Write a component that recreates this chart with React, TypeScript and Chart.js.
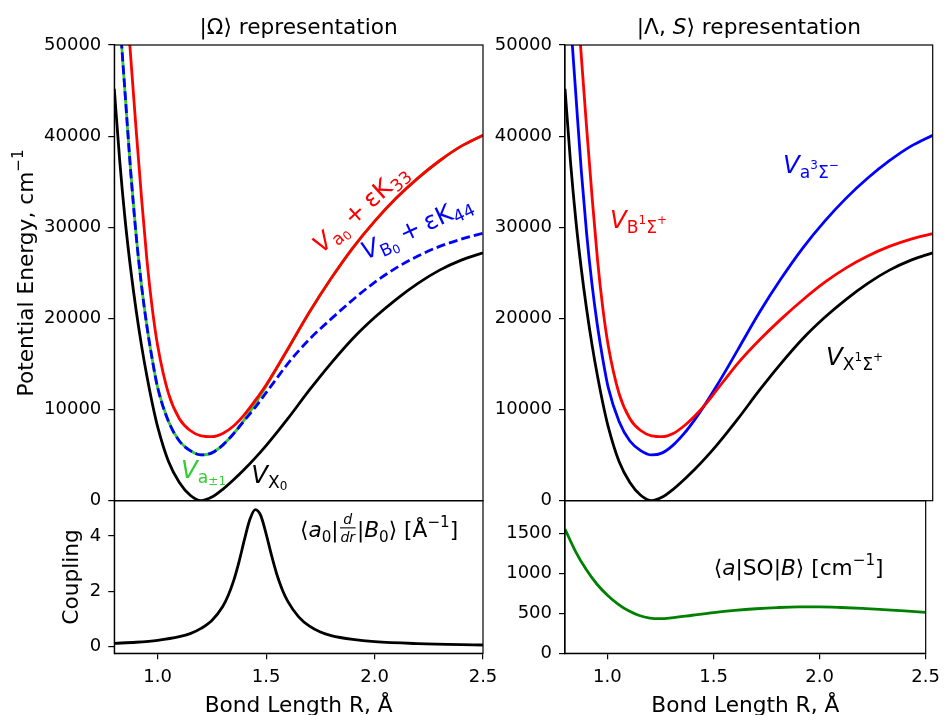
import React, { useEffect, useRef } from "react";
import { Chart, registerables } from "chart.js";

Chart.register(...registerables);

const FONT = '"DejaVu Sans", "Liberation Sans", sans-serif';
const W = 947;
const H = 715;

// ---------- data ----------
const R_PEC = [0.8, 0.825, 0.85, 0.875, 0.9, 0.925, 0.95, 0.975, 1.0, 1.05, 1.1, 1.15, 1.2, 1.25, 1.3, 1.35, 1.4, 1.45, 1.5, 1.55, 1.6, 1.7, 1.8, 1.9, 2.0, 2.1, 2.2, 2.3, 2.4, 2.5];
// X 1Sigma+ (ground state)
const V_X = [45200, 37300, 30800, 25500, 21000, 17100, 13700, 10700, 8100, 4300, 2000, 600, 0, 400, 1250, 2300, 3450, 4700, 6050, 7500, 9000, 12150, 15100, 17800, 20100, 22100, 23850, 25300, 26400, 27200];
// a 3Sigma-
const V_A = [62000, 53000, 44600, 36300, 29300, 23700, 19200, 15500, 12400, 8700, 6550, 5500, 5020, 5250, 6100, 7350, 8900, 10650, 12550, 14550, 16600, 20700, 24400, 27750, 30650, 33200, 35400, 37300, 38900, 40100];
// B 1Sigma+
const V_B = [73000, 65000, 57000, 48900, 40900, 33400, 26500, 21100, 17000, 11750, 9000, 7700, 7120, 7030, 7380, 8200, 9300, 10600, 12100, 13620, 15100, 17650, 19950, 22050, 23950, 25550, 26850, 27900, 28700, 29300];
// |Omega> representation: a0 + eps K33 (upper) and B0 + eps K44 (lower)
const V_A0_K33 = [73000, 65000, 57000, 48900, 40900, 33400, 26500, 21100, 17000, 11750, 9000, 7700, 7120, 7030, 7380, 8200, 9450, 11000, 12700, 14650, 16650, 20700, 24400, 27750, 30650, 33200, 35400, 37300, 38900, 40100];
const V_B0_K44 = [62000, 53000, 44600, 36300, 29300, 23700, 19200, 15500, 12400, 8700, 6550, 5500, 5020, 5250, 6100, 7350, 8800, 10250, 11850, 13450, 15050, 17720, 19950, 22050, 23950, 25550, 26850, 27900, 28700, 29350];

const R_COUP = [0.8, 0.9, 1.0, 1.1, 1.15, 1.2, 1.25, 1.3, 1.325, 1.35, 1.375, 1.4, 1.425, 1.45, 1.475, 1.5, 1.525, 1.55, 1.575, 1.6, 1.65, 1.7, 1.75, 1.8, 1.9, 2.0, 2.2, 2.5];
const COUPLING = [0.12, 0.16, 0.23, 0.36, 0.47, 0.66, 0.95, 1.45, 1.85, 2.38, 3.07, 3.87, 4.6, 4.96, 4.75, 4.08, 3.3, 2.6, 2.05, 1.64, 1.08, 0.74, 0.53, 0.4, 0.26, 0.18, 0.11, 0.06];

const R_SO = [0.8, 0.85, 0.9, 0.95, 1.0, 1.05, 1.1, 1.15, 1.2, 1.25, 1.3, 1.4, 1.5, 1.6, 1.7, 1.8, 1.9, 2.0, 2.1, 2.2, 2.3, 2.4, 2.5];
const SO = [1550, 1270, 1045, 865, 725, 615, 530, 472, 440, 432, 442, 475, 508, 535, 556, 571, 579, 579, 572, 560, 545, 529, 512];

const X_MIN = 0.8;
const X_MAX = 2.5;
const X_TICKS = [1.0, 1.5, 2.0, 2.5];
const PEC_TICKS = [0, 10000, 20000, 30000, 40000, 50000];
const COUP_TICKS = [0, 2, 4];
const SO_TICKS = [0, 500, 1000, 1500];

// ---------- rich text helper (sub/superscripts, fraction, spacing) ----------
type Part = { t?: string; s?: number; dy?: number; it?: boolean; frac?: [string, string]; gap?: number };

function drawRich(
  ctx: CanvasRenderingContext2D,
  x: number,
  y: number,
  parts: Part[],
  F: number,
  color: string,
  rotDeg = 0,
  align: "left" | "center" = "left"
) {
  ctx.save();
  ctx.fillStyle = color;
  ctx.strokeStyle = color;
  ctx.textBaseline = "alphabetic";
  ctx.textAlign = "left";
  const fontOf = (p: Part) => `${p.it ? "italic " : ""}${(p.s ?? 1) * F}px ${FONT}`;
  const widths = parts.map((p) => {
    if (p.gap !== undefined) return p.gap * F;
    ctx.font = fontOf(p);
    if (p.frac) return Math.max(ctx.measureText(p.frac[0]).width, ctx.measureText(p.frac[1]).width) + 0.16 * F;
    return ctx.measureText(p.t || "").width;
  });
  const total = widths.reduce((a, b) => a + b, 0);
  ctx.translate(x, y);
  ctx.rotate((-rotDeg * Math.PI) / 180);
  let cx = align === "center" ? -total / 2 : 0;
  parts.forEach((p, i) => {
    if (p.gap === undefined) {
      ctx.font = fontOf(p);
      if (p.frac) {
        const w = widths[i];
        const mid = cx + w / 2;
        ctx.textAlign = "center";
        ctx.fillText(p.frac[0], mid, -0.62 * F);
        ctx.fillText(p.frac[1], mid, 0.2 * F);
        ctx.textAlign = "left";
        ctx.lineWidth = Math.max(1, 0.05 * F);
        ctx.beginPath();
        ctx.moveTo(cx + 0.06 * F, -0.43 * F);
        ctx.lineTo(cx + w - 0.06 * F, -0.43 * F);
        ctx.stroke();
      } else {
        ctx.fillText(p.t || "", cx, (p.dy ?? 0) * F);
      }
    }
    cx += widths[i];
  });
  ctx.restore();
}

type Anno = { x: number; y: number; parts: Part[]; size: number; color: string; rot?: number };
type Panel = {
  area: [number, number, number, number]; // left, top, right, bottom of plot area
  yMin: number;
  yMax: number;
  yTicks: number[];
  showX: boolean;
  datasets: any[];
  annos: Anno[];
  title?: Part[];
  yLabel: Part[];
  yLabelX: number;
};

const LBL = 21.7;
const V_SIZE = 24.5;

function line(xs: number[], ys: number[], color: string, width: number, dash: number[] = []) {
  return {
    data: xs.map((x, i) => ({ x, y: ys[i] })),
    borderColor: color,
    backgroundColor: color,
    borderWidth: width,
    borderDash: dash,
    pointRadius: 0,
    fill: false,
    cubicInterpolationMode: "monotone",
    clip: 0,
  };
}

function makeConfig(p: Panel): any {
  const [left, top, right, bottom] = p.area;
  const yAxisW = 100;
  const xAxisH = 40;
  const gridCfg = { display: true, drawOnChartArea: false, drawTicks: true, tickLength: 6, color: "#000", lineWidth: 1.2 };
  const borderCfg = { display: true, color: "#000", width: 1.2 };
  return {
    type: "line",
    data: { datasets: p.datasets },
    options: {
      responsive: false,
      animation: false,
      devicePixelRatio: 1,
      events: [],
      layout: {
        padding: {
          left: left - yAxisW,
          top: top,
          right: W - right,
          bottom: p.showX ? H - bottom - xAxisH : H - bottom,
        },
      },
      plugins: { legend: { display: false }, tooltip: { enabled: false }, title: { display: false } },
      scales: {
        x: {
          type: "linear",
          min: X_MIN,
          max: X_MAX,
          display: p.showX,
          afterBuildTicks: (s: any) => {
            s.ticks = X_TICKS.map((v) => ({ value: v }));
          },
          afterFit: (s: any) => {
            s.height = p.showX ? xAxisH : 0;
          },
          grid: gridCfg,
          border: borderCfg,
          ticks: {
            font: { family: FONT, size: 18 },
            color: "#000",
            padding: 7,
            maxRotation: 0,
            autoSkip: false,
            callback: (v: any) => Number(v).toFixed(1),
          },
        },
        y: {
          type: "linear",
          min: p.yMin,
          max: p.yMax,
          afterBuildTicks: (s: any) => {
            s.ticks = p.yTicks.map((v) => ({ value: v }));
          },
          afterFit: (s: any) => {
            s.width = yAxisW;
          },
          grid: gridCfg,
          border: borderCfg,
          ticks: {
            font: { family: FONT, size: 18 },
            color: "#000",
            padding: 7,
            autoSkip: false,
            callback: (v: any) => String(v),
          },
        },
      },
    },
    plugins: [
      {
        id: "deco",
        afterDraw(chart: any) {
          const ctx = chart.ctx as CanvasRenderingContext2D;
          const a = chart.chartArea;
          ctx.save();
          ctx.strokeStyle = "#000";
          ctx.lineWidth = 1.2;
          ctx.strokeRect(a.left, a.top, a.right - a.left, a.bottom - a.top);
          ctx.restore();
          const xs = chart.scales.x;
          const ys = chart.scales.y;
          p.annos.forEach((an) => {
            drawRich(ctx, xs.getPixelForValue(an.x), ys.getPixelForValue(an.y), an.parts, an.size, an.color, an.rot || 0);
          });
          const cxm = (a.left + a.right) / 2;
          if (p.title) drawRich(ctx, cxm, 33.5, p.title, LBL, "#000", 0, "center");
          if (p.showX) drawRich(ctx, cxm, 712, [{ t: "Bond Length R, Å" }], LBL, "#000", 0, "center");
          if (p.yLabel.length) drawRich(ctx, p.yLabelX, (a.top + a.bottom) / 2, p.yLabel, LBL, "#000", 90, "center");
        },
      },
    ],
  };
}

const LEFT_X: [number, number] = [114.3, 483];
const RIGHT_X: [number, number] = [565, 932.7];
const TOP_Y: [number, number] = [45, 500.7];
const BOT_Y: [number, number] = [500.7, 653.3];

const sub = (t: string) => ({ t, s: 0.7, dy: 0.2 });
const subsub = (t: string) => ({ t, s: 0.49, dy: 0.3 });
const supsub = (t: string) => ({ t, s: 0.49, dy: -0.15 });
const Vit = { t: "V", it: true };
const plusEpsK: Part[] = [{ gap: 0.24 }, { t: "+" }, { gap: 0.24 }, { t: "εK" }];

const PANELS: Panel[] = [
  {
    area: [LEFT_X[0], TOP_Y[0], LEFT_X[1], TOP_Y[1]],
    yMin: 0,
    yMax: 50000,
    yTicks: PEC_TICKS,
    showX: false,
    datasets: [
      line(R_PEC, V_B0_K44, "#0000ff", 2.8, [9, 4]),
      line(R_PEC, V_A0_K33, "#ff0000", 2.8),
      line(R_PEC, V_A, "#32cd32", 2.8),
      line(R_PEC, V_X, "#000000", 2.8),
    ],
    annos: [
      { x: 1.758, y: 27070, size: V_SIZE, color: "#ff0000", rot: 42, parts: [Vit, sub("a"), subsub("0"), ...plusEpsK, sub("33")] },
      { x: 1.96, y: 26410, size: V_SIZE, color: "#0000ff", rot: 25, parts: [Vit, sub("B"), subsub("0"), ...plusEpsK, sub("44")] },
      { x: 1.108, y: 2490, size: V_SIZE, color: "#32cd32", parts: [Vit, sub("a"), subsub("±1")] },
      { x: 1.431, y: 1940, size: V_SIZE, color: "#000000", parts: [Vit, sub("X"), subsub("0")] },
    ],
    title: [{ t: "|Ω⟩ representation" }],
    yLabel: [{ t: "Potential Energy, cm" }, { t: "−1", s: 0.7, dy: -0.45 }],
    yLabelX: 32.5,
  },
  {
    area: [LEFT_X[0], BOT_Y[0], LEFT_X[1], BOT_Y[1]],
    yMin: -0.24,
    yMax: 5.28,
    yTicks: COUP_TICKS,
    showX: true,
    datasets: [line(R_COUP, COUPLING, "#000000", 2.8)],
    annos: [
      {
        x: 1.656,
        y: 3.96,
        size: LBL,
        color: "#000000",
        parts: [
          { t: "⟨" },
          { t: "a", it: true },
          sub("0"),
          { t: "|" },
          { frac: ["d", "dr"], s: 0.65, it: true },
          { t: "|" },
          { t: "B", it: true },
          sub("0"),
          { t: "⟩ [Å" },
          { t: "−1", s: 0.7, dy: -0.45 },
          { t: "]" },
        ],
      },
    ],
    yLabel: [{ t: "Coupling" }],
    yLabelX: 78,
  },
  {
    area: [RIGHT_X[0], TOP_Y[0], RIGHT_X[1], TOP_Y[1]],
    yMin: 0,
    yMax: 50000,
    yTicks: PEC_TICKS,
    showX: false,
    datasets: [
      line(R_PEC, V_B, "#ff0000", 2.8),
      line(R_PEC, V_A, "#0000ff", 2.8),
      line(R_PEC, V_X, "#000000", 2.8),
    ],
    annos: [
      { x: 1.008, y: 29920, size: V_SIZE, color: "#ff0000", parts: [Vit, sub("B"), supsub("1"), sub("Σ"), supsub("+")] },
      { x: 1.808, y: 35960, size: V_SIZE, color: "#0000ff", parts: [Vit, sub("a"), supsub("3"), sub("Σ"), supsub("−")] },
      { x: 2.007, y: 14890, size: V_SIZE, color: "#000000", parts: [Vit, sub("X"), supsub("1"), sub("Σ"), supsub("+")] },
    ],
    title: [{ t: "|Λ, " }, { t: "S", it: true }, { t: "⟩ representation" }],
    yLabel: [],
    yLabelX: 0,
  },
  {
    area: [RIGHT_X[0], BOT_Y[0], RIGHT_X[1], BOT_Y[1]],
    yMin: 0,
    yMax: 1905,
    yTicks: SO_TICKS,
    showX: true,
    datasets: [line(R_SO, SO, "#008000", 2.8)],
    annos: [
      {
        x: 1.501,
        y: 979,
        size: LBL,
        color: "#000000",
        parts: [{ t: "⟨" }, { t: "a", it: true }, { t: "|SO|" }, { t: "B", it: true }, { t: "⟩ [cm" }, { t: "−1", s: 0.7, dy: -0.45 }, { t: "]" }],
      },
    ],
    yLabel: [],
    yLabelX: 0,
  },
];

function PanelCanvas({ panel }: { panel: Panel }) {
  const ref = useRef<HTMLCanvasElement | null>(null);
  useEffect(() => {
    if (!ref.current) return;
    const chart = new Chart(ref.current, makeConfig(panel));
    return () => chart.destroy();
  }, [panel]);
  return (
    <canvas
      ref={ref}
      width={W}
      height={H}
      style={{ position: "absolute", left: 0, top: 0, width: W, height: H }}
    />
  );
}

export default function App() {
  return (
    <div style={{ position: "absolute", left: 0, top: 0, width: W, height: H, background: "#fff", overflow: "hidden" }}>
      {PANELS.map((p, i) => (
        <PanelCanvas key={i} panel={p} />
      ))}
    </div>
  );
}
